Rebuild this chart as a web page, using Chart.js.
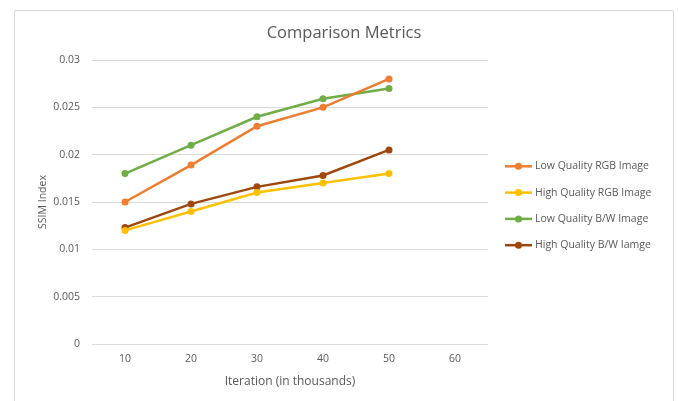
<!DOCTYPE html>
<html>
<head>
<meta charset="utf-8">
<script src="https://cdn.jsdelivr.net/npm/chart.js@4/dist/chart.umd.min.js"></script>
<style>
  html, body { margin: 0; padding: 0; background: #ffffff; }
  #wrap { width: 678px; height: 401px; position: relative; }
</style>
</head>
<body>
<div id="wrap"><canvas id="chart" width="678" height="401"></canvas></div>
<script>
// Iterations (thousands) on the x axis
const iterations = ['10', '20', '30', '40', '50', '60'];

// SSIM index per series
const lowQualityRGB  = [0.015, 0.0189, 0.023, 0.025, 0.028];
const highQualityRGB = [0.012, 0.014, 0.016, 0.017, 0.018];
const lowQualityBW   = [0.018, 0.021, 0.024, 0.0259, 0.027];
const highQualityBW  = [0.0123, 0.0148, 0.0166, 0.0178, 0.0205];

const seriesNames = ['Low Quality RGB Image', 'High Quality RGB Image', 'Low Quality B/W Image', 'High Quality B/W Iamge'];
const seriesColors = ['#ED7D31', '#FFC000', '#70AD47', '#9E480E'];
const seriesValues = [lowQualityRGB, highQualityRGB, lowQualityBW, highQualityBW];

const chartTitle = 'Comparison Metrics';

const FONT = "'Open Sans', 'Liberation Sans', sans-serif";
const TEXT = '#595959';

const datasets = seriesValues.map((vals, i) => ({
  label: seriesNames[i],
  data: vals,
  borderColor: seriesColors[i],
  backgroundColor: seriesColors[i],
  borderWidth: 2.5,
  pointRadius: 3.5,
  pointHoverRadius: 3.5,
  pointBorderWidth: 0,
  tension: 0,
  fill: false
}));

// White background, frame and title centred on the whole figure
const framePlugin = {
  id: 'frame',
  beforeDraw(chart) {
    const ctx = chart.ctx;
    ctx.save();
    ctx.fillStyle = '#ffffff';
    ctx.fillRect(0, 0, chart.width, chart.height);
    ctx.strokeStyle = '#D9D9D9';
    ctx.lineWidth = 1;
    ctx.beginPath();
    ctx.moveTo(14.5, chart.height + 2);
    ctx.lineTo(14.5, 10.5);
    ctx.lineTo(673.5, 10.5);
    ctx.lineTo(673.5, chart.height + 2);
    ctx.stroke();
    ctx.fillStyle = TEXT;
    ctx.font = '16.5px ' + FONT;
    ctx.textAlign = 'center';
    ctx.textBaseline = 'middle';
    ctx.fillText(chartTitle, 344, 33);
    ctx.restore();
  }
};

// Series key on the right: line sample with marker, then name
const keyPlugin = {
  id: 'seriesKey',
  afterDraw(chart) {
    const ctx = chart.ctx;
    const x0 = 505, x1 = 532, rowH = 26.3, yStart = 166.3;
    ctx.save();
    ctx.font = '10.5px ' + FONT;
    ctx.textBaseline = 'middle';
    ctx.textAlign = 'left';
    chart.data.datasets.forEach((ds, i) => {
      const y = yStart + i * rowH;
      ctx.strokeStyle = ds.borderColor;
      ctx.lineWidth = 2.5;
      ctx.beginPath();
      ctx.moveTo(x0, y);
      ctx.lineTo(x1, y);
      ctx.stroke();
      ctx.fillStyle = ds.borderColor;
      ctx.beginPath();
      ctx.arc((x0 + x1) / 2, y, 3.5, 0, Math.PI * 2);
      ctx.fill();
      ctx.fillStyle = TEXT;
      ctx.fillText(ds.label, x1 + 3, y);
    });
    ctx.restore();
  }
};

new Chart(document.getElementById('chart'), {
  type: 'line',
  data: { labels: iterations, datasets },
  options: {
    responsive: false,
    animation: false,
    devicePixelRatio: 1,
    layout: { padding: { left: 0, right: 190, top: 60, bottom: 0 } },
    plugins: {
      legend: { display: false },
      tooltip: { enabled: false },
      title: { display: false }
    },
    scales: {
      x: {
        type: 'category',
        offset: true,
        grid: { display: false, drawTicks: false },
        border: { display: false },
        ticks: { color: TEXT, font: { family: FONT, size: 10.5 }, padding: 9, maxRotation: 0 },
        title: {
          display: true,
          text: 'Iteration (in thousands)',
          color: TEXT,
          font: { family: FONT, size: 12 },
          padding: { top: 0, bottom: 12 }
        },
        afterFit(scale) { scale.height = 57; }
      },
      y: {
        min: 0,
        max: 0.03,
        grid: { color: '#D9D9D9', drawTicks: false, lineWidth: 1 },
        border: { display: false },
        ticks: {
          stepSize: 0.005,
          color: TEXT,
          font: { family: FONT, size: 10.5 },
          padding: 12,
          callback: v => String(Number(v.toFixed(3)))
        },
        title: {
          display: true,
          text: 'SSIM Index',
          color: TEXT,
          font: { family: FONT, size: 10.5 },
          padding: { top: 37, bottom: 0 }
        },
        afterFit(scale) { scale.width = 92; }
      }
    }
  },
  plugins: [framePlugin, keyPlugin]
});
</script>
</body>
</html>
